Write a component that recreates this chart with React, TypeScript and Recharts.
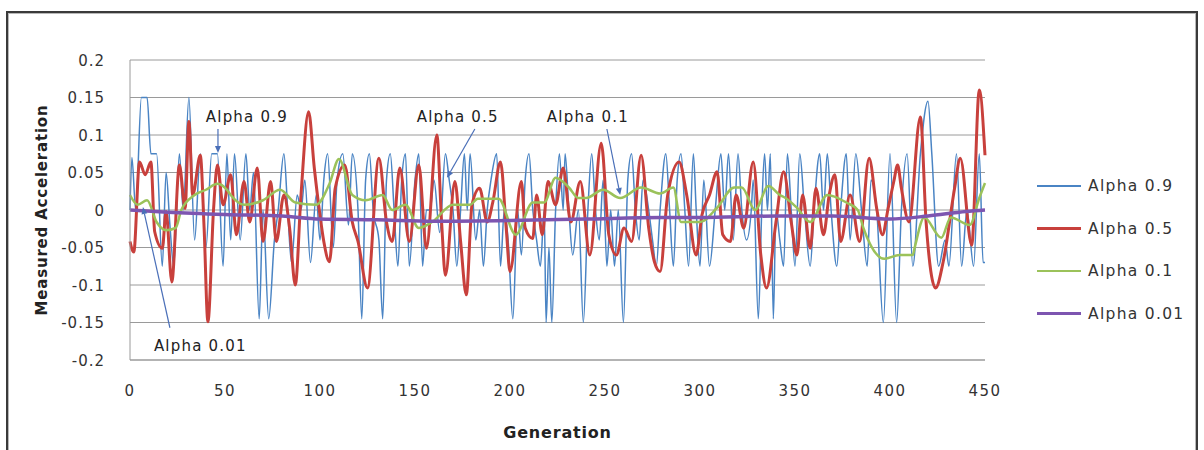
import React from "react";
import {
  LineChart,
  Line,
  XAxis,
  YAxis,
  CartesianGrid,
  ReferenceLine,
  ReferenceDot,
  Label,
} from "recharts";

// ---------- DATA ----------
const xTicks = [0, 50, 100, 150, 200, 250, 300, 350, 400, 450];
const yTicks = [-0.2, -0.15, -0.1, -0.05, 0, 0.05, 0.1, 0.15, 0.2];

const alpha09: [number, number][] = [
  [0, 0], [1, 0.07], [3, 0], [6, 0.15], [9, 0.15], [11, 0.075], [14, 0.075], [17, -0.075], [19, 0.05],
  [21, -0.02], [23, -0.075], [26, 0.075], [28, 0], [31, 0.15], [34, -0.04], [37, 0.075], [40, -0.05],
  [43, 0.075], [46, 0.075], [49, -0.075], [51, 0.075], [53, -0.04], [55, 0.075], [58, -0.04], [61, 0.075],
  [63, 0], [65, 0.05], [68, -0.145], [70, 0], [73, -0.145], [76, -0.04], [78, 0], [81, 0.075], [83, 0],
  [85, -0.07], [88, 0.02], [90, 0], [92, 0.04], [95, -0.07], [98, 0.02], [100, -0.04], [102, 0.04],
  [104, 0.075], [107, -0.05], [109, 0.04], [112, 0.075], [115, -0.02], [117, 0.075], [120, 0],
  [122, -0.145], [124, 0.04], [126, 0.075], [128, 0], [131, -0.04], [133, -0.145], [135, 0.04],
  [137, 0.075], [139, 0], [141, -0.075], [143, 0.04], [145, 0.075], [147, -0.075], [150, 0.04],
  [152, 0.075], [154, -0.075], [156, 0], [158, 0], [160, 0.04], [163, -0.03], [166, 0.075], [168, 0.04],
  [170, 0], [172, -0.075], [174, 0], [176, 0.075], [177.5, 0], [179, 0.075], [182, -0.04], [184, 0],
  [186, -0.075], [188, 0], [190, 0.04], [193, 0.075], [195, -0.075], [197, 0], [199, -0.04],
  [201.5, -0.145], [204, 0], [206, -0.06], [208, 0.04], [210, 0.075], [212, 0], [214, -0.04],
  [216, -0.075], [218, 0], [219, -0.15], [220.5, -0.05], [222, -0.15], [224, 0], [226, 0.075], [228, 0],
  [229, 0.075], [231, 0], [233, -0.06], [236, 0], [238.6, -0.15], [241, 0], [243, 0.075], [245, 0],
  [247, -0.04], [249, 0.04], [251, -0.075], [253, 0], [255, -0.075], [257, 0], [259.7, -0.15],
  [262, 0.04], [264, 0.075], [266, 0], [268, -0.04], [270, 0.04], [273, 0], [275, -0.04], [277, -0.075],
  [279, 0], [282, 0.075], [284, 0], [286, -0.075], [288, 0.04], [290, 0.075], [292, 0], [294, -0.075],
  [296.5, 0.075], [298, 0], [300, -0.075], [302, 0.04], [305, -0.075], [308, 0], [311, 0.075], [313, 0],
  [315, 0.075], [317.5, -0.04], [320, 0.075], [322, 0], [324.5, -0.04], [327, 0], [328, 0.04],
  [330.7, -0.145], [332.5, 0], [334, 0.075], [335.5, 0], [337, 0.075], [338.6, -0.145], [340, 0],
  [342, -0.04], [344, -0.075], [346, 0.075], [348, 0], [350, -0.075], [352.5, 0.075], [355, 0],
  [358, -0.075], [360, 0], [363, 0.075], [365, 0], [367, 0.075], [369, 0], [372, -0.075], [374, 0],
  [377, 0.075], [379, -0.04], [382, 0.075], [385, 0], [388, -0.075], [390, 0.04], [393, 0],
  [396.5, -0.15], [400, 0.075], [403.5, -0.15], [406, 0], [409, 0.075], [412, -0.075], [416, 0.075],
  [420, 0.145], [422, 0.075], [425.6, -0.075], [429, -0.04], [431, -0.075], [435, 0.075],
  [437.7, -0.075], [440.5, 0], [444, -0.075], [447, 0.075], [449, -0.07], [450, -0.07],
];

const alpha05: [number, number][] = [
  [0, -0.042], [2, -0.056], [5, 0.064], [8, 0.047], [11, 0.064], [13, -0.029], [17, -0.051], [19, -0.002],
  [22, -0.096], [26, 0.06], [29, 0.002], [31, 0.118], [33, 0.02], [37, 0.073], [39, -0.024], [41, -0.149],
  [44, 0.002], [46, 0.06], [49, 0.007], [53, 0.047], [56, -0.033], [60, 0.038], [63, -0.016], [67, 0.056],
  [70, -0.042], [74, 0.038], [77, -0.042], [81, 0.02], [84, -0.024], [87, -0.1], [90, 0.02], [94, 0.131],
  [97, 0.056], [100, -0.007], [102, -0.042], [105, -0.069], [108, 0.029], [113, 0.06], [117, -0.016],
  [120, -0.042], [125, -0.104], [131, 0.069], [135, -0.016], [138, -0.042], [142, 0.056], [147, -0.042],
  [152, 0.06], [156, -0.051], [161.5, 0.1], [164, -0.016], [166, -0.087], [171, 0.038], [174, -0.042],
  [177, -0.113], [180, 0.007], [184, 0.029], [188, -0.016], [191, 0.011], [195, 0.064], [198, -0.024],
  [200, -0.082], [206, 0.038], [208, -0.024], [212, -0.038], [214, 0.02], [217, -0.033], [220, 0.038],
  [224, 0.007], [228, 0.056], [232, -0.016], [237, 0.038], [242, -0.06], [248, 0.089], [252, -0.033],
  [256, -0.06], [260, -0.024], [264, -0.042], [269, 0.073], [273, -0.024], [276, -0.069], [279, -0.082],
  [283, 0.02], [289, 0.064], [293, 0.02], [298, -0.06], [301, -0.007], [305, 0.02], [309, 0.051],
  [312, -0.033], [316, -0.042], [319, 0.02], [323, -0.024], [328, 0.064], [332, -0.06], [335, -0.104],
  [340, -0.016], [344, 0.051], [348, -0.016], [351, -0.06], [354, 0.02], [358, -0.051], [361, 0.029],
  [365, -0.033], [368, 0.02], [371, 0.047], [374, -0.042], [379, 0.02], [384, -0.042], [389, 0.069],
  [393, 0.002], [396, -0.033], [399, 0.002], [402, 0.038], [404, 0.06], [406, 0.029], [410, -0.016],
  [416, 0.124], [419, -0.016], [424, -0.104], [428, -0.069], [434, 0.029], [437, 0.069], [443, -0.047],
  [447, 0.16], [450, 0.073],
];

const alpha01: [number, number][] = [
  [0, 0.02], [4, 0.007], [9, 0.013], [14, -0.016], [19, -0.027], [24, -0.024], [27, 0], [34, 0.02],
  [40, 0.027], [46, 0.035], [51, 0.027], [53, 0.02], [60, 0.007], [70, 0.013], [79, 0.027], [87, 0.01],
  [98, 0.007], [105, 0.035], [110, 0.068], [117, 0.02], [124, 0.013], [133, 0.02], [138, 0], [145, 0.007],
  [152, -0.024], [159, -0.016], [170, 0.007], [179, 0.007], [183, 0.015], [194, 0.015], [203, -0.033],
  [212, 0.01], [218, 0.01], [224, 0.043], [231, 0.03], [236, 0.016], [240, 0.016], [249, 0.027],
  [258, 0.016], [269, 0.03], [279, 0.022], [286, 0.03], [290, -0.016], [300, -0.016], [309, 0.003],
  [318, 0.03], [322, 0.03], [329, 0], [336, 0.032], [342, 0.02], [345, 0.016], [351, 0.003], [358, -0.016],
  [367, 0.02], [377, 0.01], [383, 0], [386, -0.024], [397, -0.065], [405, -0.06], [412, -0.06],
  [413, -0.05], [418, -0.01], [427, -0.037], [432, -0.01], [442, -0.02], [447, 0.016], [450, 0.036],
];

const alpha001: [number, number][] = [
  [0, 0], [20, -0.003], [50, -0.006], [80, -0.008], [100, -0.012], [130, -0.013], [160, -0.015],
  [200, -0.014], [240, -0.012], [280, -0.01], [300, -0.01], [340, -0.008], [370, -0.008], [400, -0.012],
  [420, -0.008], [440, -0.002], [450, 0],
];

const seriesNames = ["Alpha 0.9", "Alpha 0.5", "Alpha 0.1", "Alpha 0.01"];
const seriesColors = ["#4A84C4", "#C8403C", "#9BC25A", "#7D55B0"];
const seriesWidths = [1.5, 3, 2.5, 3.5];
const seriesData = [alpha09, alpha05, alpha01, alpha001];

// annotation: label position (gen, value) and arrow from -> to
const annotations = [
  { text: "Alpha 0.9", lx: 61.5, ly: 0.125, from: [46.3, 0.108], to: [46.3, 0.076] },
  { text: "Alpha 0.5", lx: 172.5, ly: 0.125, from: [181.5, 0.108], to: [166.8, 0.043] },
  { text: "Alpha 0.1", lx: 241, ly: 0.125, from: [251, 0.108], to: [258, 0.02] },
  { text: "Alpha 0.01", lx: 37, ly: -0.181, from: [21, -0.157], to: [6.8, 0.004] },
];

const FONT = "'DejaVu Sans', sans-serif";

const toPoints = (arr: [number, number][]) => arr.map(([x, y]) => ({ x, y }));

const fmtY = (v: number) => String(Number(v.toFixed(2)));

const YTick = (props: any) => {
  const { x, y, payload } = props;
  return (
    <text x={x} y={y} dy={5.5} textAnchor="end" fontFamily={FONT} fontSize={15} fill="#333" letterSpacing={1}>
      {fmtY(payload.value)}
    </text>
  );
};

const XTick = (props: any) => {
  const { x, y, payload } = props;
  return (
    <text x={x} y={y} dy={11} textAnchor="middle" fontFamily={FONT} fontSize={15} fill="#333" letterSpacing={1.5}>
      {String(payload.value)}
    </text>
  );
};

const arrowShape = (props: any) => {
  const { x1, y1, x2, y2 } = props;
  if ([x1, y1, x2, y2].some((v) => v === undefined || isNaN(v))) return <g />;
  const ang = Math.atan2(y2 - y1, x2 - x1);
  const len = 7;
  const w = 3;
  const bx = x2 - len * Math.cos(ang);
  const by = y2 - len * Math.sin(ang);
  const px = -Math.sin(ang) * w;
  const py = Math.cos(ang) * w;
  return (
    <g>
      <line x1={x1} y1={y1} x2={bx} y2={by} stroke="#4A6FB8" strokeWidth={1.2} />
      <polygon points={`${x2},${y2} ${bx + px},${by + py} ${bx - px},${by - py}`} fill="#4A6FB8" />
    </g>
  );
};

const makeTextShape = (text: string) => (props: any) => {
  const { cx, cy } = props;
  return (
    <text x={cx} y={cy} dy={5.5} textAnchor="middle" fontFamily={FONT} fontSize={15} fill="#222" letterSpacing={1.2}>
      {text}
    </text>
  );
};

const YLabel = (props: any) => {
  const vb = props.viewBox || {};
  const cx = 42;
  const cy = (vb.y || 60) + (vb.height || 300) / 2;
  return (
    <text
      x={cx}
      y={cy}
      transform={`rotate(-90 ${cx} ${cy})`}
      textAnchor="middle"
      dominantBaseline="central"
      fontFamily={FONT}
      fontWeight="bold"
      fontSize={15}
      fill="#222"
      letterSpacing={0.8}
    >
      Measured Acceleration
    </text>
  );
};

const XLabel = (props: any) => {
  const vb = props.viewBox || {};
  const cx = (vb.x || 130) + (vb.width || 855) / 2;
  return (
    <text x={cx} y={438} textAnchor="middle" fontFamily={FONT} fontWeight="bold" fontSize={16} fill="#222" letterSpacing={0.8}>
      Generation
    </text>
  );
};

export default function App() {
  return (
    <div style={{ position: "absolute", left: 0, top: 0, width: 1204, height: 450, background: "#fff", overflow: "hidden" }}>
      <div
        style={{
          position: "absolute",
          left: 6,
          top: 11,
          width: 1192,
          height: 460,
          border: "2px solid #3a3a3a",
          boxShadow: "inset 0 0 0 1px #b8b8b8",
          boxSizing: "border-box",
        }}
      />
      <div style={{ position: "absolute", left: 0, top: 0 }}>
        <LineChart width={1204} height={450} margin={{ top: 60, right: 219, bottom: 60, left: 60 }}>
          <CartesianGrid vertical={false} stroke="#9a9a9a" strokeWidth={1} />
          <XAxis
            dataKey="x"
            type="number"
            domain={[0, 450]}
            ticks={xTicks}
            allowDuplicatedCategory={false}
            height={30}
            tickLine={false}
            tickSize={0}
            tickMargin={25}
            axisLine={{ stroke: "#9a9a9a" }}
            tick={<XTick />}
          >
            <Label content={<XLabel />} />
          </XAxis>
          <YAxis
            type="number"
            domain={[-0.2, 0.2]}
            ticks={yTicks}
            width={70}
            tickLine={false}
            tickSize={0}
            tickMargin={25}
            axisLine={{ stroke: "#9a9a9a" }}
            tick={<YTick />}
          >
            <Label content={<YLabel />} />
          </YAxis>
          {seriesData.map((d, i) => (
            <Line
              key={seriesNames[i]}
              data={toPoints(d)}
              dataKey="y"
              name={seriesNames[i]}
              type="monotone"
              stroke={seriesColors[i]}
              strokeWidth={seriesWidths[i]}
              dot={false}
              activeDot={false}
              isAnimationActive={false}
            />
          ))}
          {annotations.map((a) => (
            <ReferenceLine
              key={"arr" + a.text}
              segment={[
                { x: a.from[0], y: a.from[1] },
                { x: a.to[0], y: a.to[1] },
              ]}
              shape={arrowShape}
              ifOverflow="visible"
            />
          ))}
          {annotations.map((a) => (
            <ReferenceDot key={"lbl" + a.text} x={a.lx} y={a.ly} r={0} shape={makeTextShape(a.text)} ifOverflow="visible" />
          ))}
        </LineChart>
      </div>
      {seriesNames.map((n, i) => (
        <div key={n} style={{ position: "absolute", left: 1037, top: 186 + i * 42.5 - 11, height: 22, display: "flex", alignItems: "center" }}>
          <div style={{ width: 44, height: seriesWidths[i], background: seriesColors[i] }} />
          <span style={{ marginLeft: 7, fontFamily: FONT, fontSize: 15.5, color: "#333", letterSpacing: 1.3, whiteSpace: "nowrap" }}>{n}</span>
        </div>
      ))}
    </div>
  );
}
